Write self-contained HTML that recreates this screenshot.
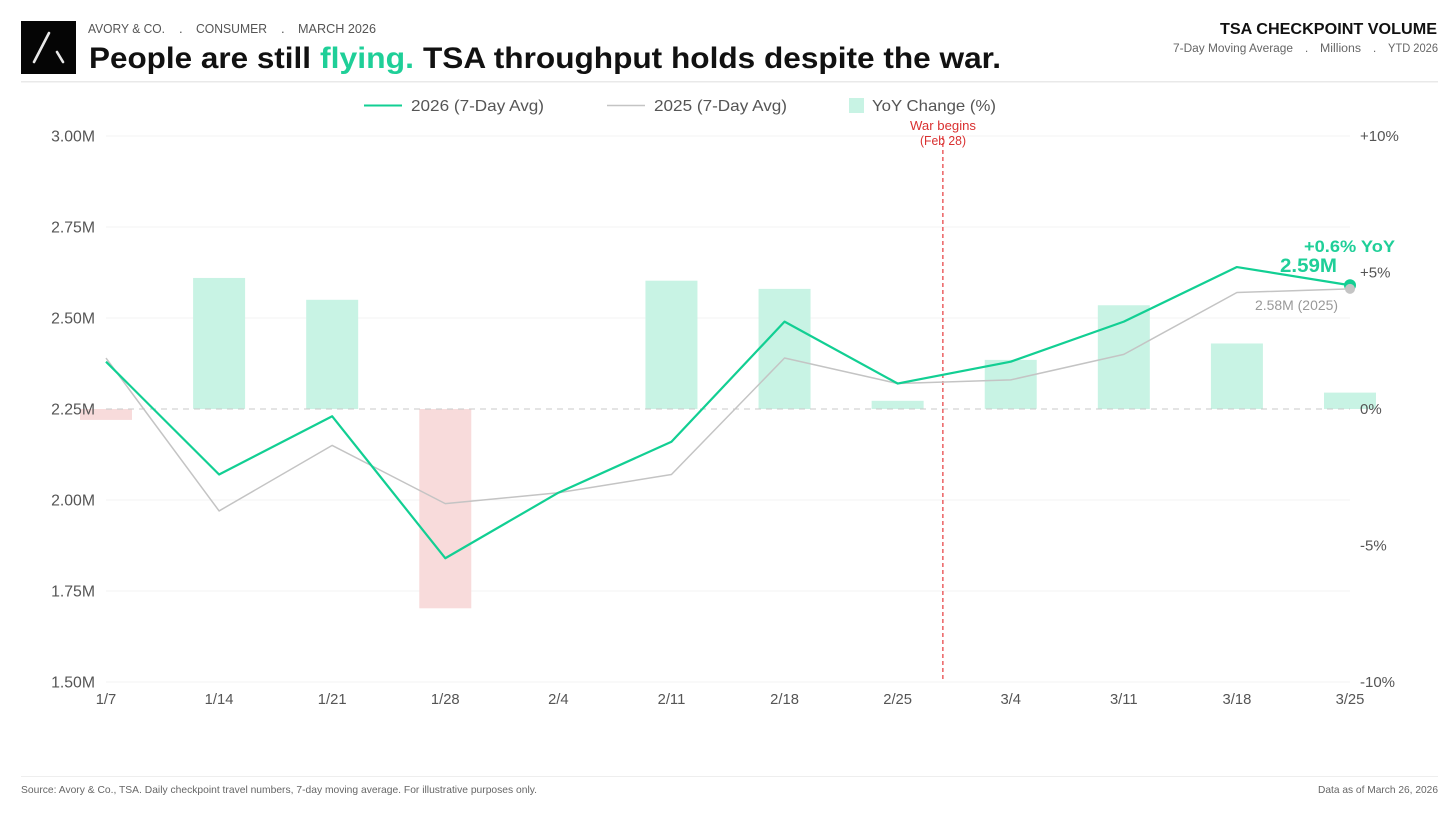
<!DOCTYPE html>
<html lang="en">
<head>
<meta charset="utf-8">
<title>TSA Checkpoint Volume</title>
<style>
  html,body{margin:0;padding:0;background:#fff;}
  body{width:1456px;height:819px;overflow:hidden;}
  svg{display:block;font-family:"Liberation Sans",Arial,sans-serif;}
</style>
</head>
<body>
<svg id="chart" width="1456" height="819" viewBox="0 0 1456 819" xmlns="http://www.w3.org/2000/svg">
  <rect x="0" y="0" width="1456" height="819" fill="#ffffff"/>

  <g>
    <g>
      <rect x="21" y="21" width="55" height="53" fill="#050505"/>
      <line x1="49" y1="33" x2="34" y2="62" stroke="#e8e8e8" stroke-width="2.6" stroke-linecap="round"/>
      <line x1="57" y1="52" x2="63" y2="62" stroke="#e8e8e8" stroke-width="2.6" stroke-linecap="round"/>
    </g>
    <g font-size="13" fill="#555555">
      <text x="88" y="33" textLength="77" lengthAdjust="spacingAndGlyphs">AVORY &amp; CO.</text>
      <text x="179" y="33">.</text>
      <text x="196" y="33" textLength="71" lengthAdjust="spacingAndGlyphs">CONSUMER</text>
      <text x="281" y="33">.</text>
      <text x="298" y="33" textLength="78" lengthAdjust="spacingAndGlyphs">MARCH 2026</text>
    </g>
    <g font-size="30" font-weight="700">
      <text x="89" y="68" fill="#111111" textLength="222" lengthAdjust="spacingAndGlyphs">People are still</text>
      <text x="320" y="68" fill="#1fcf98" textLength="94" lengthAdjust="spacingAndGlyphs">flying.</text>
      <text x="423" y="68" fill="#111111" textLength="578" lengthAdjust="spacingAndGlyphs">TSA throughput holds despite the war.</text>
    </g>
    <text x="1220" y="34" font-size="15.5" font-weight="700" fill="#111111" textLength="217" lengthAdjust="spacingAndGlyphs">TSA CHECKPOINT VOLUME</text>
    <g font-size="11.5" fill="#666666">
      <text x="1173" y="52" textLength="120" lengthAdjust="spacingAndGlyphs">7-Day Moving Average</text>
      <text x="1305" y="52">.</text>
      <text x="1320" y="52" textLength="41" lengthAdjust="spacingAndGlyphs">Millions</text>
      <text x="1373" y="52">.</text>
      <text x="1388" y="52" textLength="50" lengthAdjust="spacingAndGlyphs">YTD 2026</text>
    </g>
    <rect x="21" y="81" width="1417" height="1.5" fill="#e9e9e9"/>
  </g>

  <g font-size="16" fill="#555555">
    <g>
      <line x1="364" y1="105.5" x2="402" y2="105.5" stroke="#12cf93" stroke-width="2"/>
      <text x="411" y="111" textLength="133" lengthAdjust="spacingAndGlyphs">2026 (7-Day Avg)</text>
    </g>
    <g>
      <line x1="607" y1="105.5" x2="645" y2="105.5" stroke="#c4c4c4" stroke-width="1.5"/>
      <text x="654" y="111" textLength="133" lengthAdjust="spacingAndGlyphs">2025 (7-Day Avg)</text>
    </g>
    <g>
      <rect x="849" y="98" width="15" height="15" fill="#c8f3e4"/>
      <text x="872" y="111" textLength="124" lengthAdjust="spacingAndGlyphs">YoY Change (%)</text>
    </g>
  </g>

  <g id="plot"></g>

  <g font-size="10.5" fill="#666666">
    <rect x="21" y="776" width="1417" height="1" fill="#eeeeee"/>
    <text x="21" y="793" textLength="516" lengthAdjust="spacingAndGlyphs">Source: Avory &amp; Co., TSA. Daily checkpoint travel numbers, 7-day moving average. For illustrative purposes only.</text>
    <text x="1318" y="793" textLength="120" lengthAdjust="spacingAndGlyphs">Data as of March 26, 2026</text>
  </g>
</svg>

<script>
const dates = ['1/7','1/14','1/21','1/28','2/4','2/11','2/18','2/25','3/4','3/11','3/18','3/25'];
const values2026 = [2.38,2.07,2.23,1.84,2.02,2.16,2.49,2.32,2.38,2.49,2.64,2.59];
const values2025 = [2.39,1.97,2.15,1.99,2.02,2.07,2.39,2.32,2.33,2.40,2.57,2.58];
const yoyChange = [-0.4,4.8,4.0,-7.3,0,4.7,4.4,0.3,1.8,3.8,2.4,0.6];
const leftTickValues = [3.00,2.75,2.50,2.25,2.00,1.75,1.50];
const rightTickValues = [10,5,0,-5,-10];
const warIndex = 7.4;

const SVG_NS = 'http://www.w3.org/2000/svg';
const plot = document.getElementById('plot');
const plotLeft = 106, plotRight = 1350, plotTop = 136, plotBottom = 682;
const leftMin = 1.5, leftMax = 3.0, rightMin = -10, rightMax = 10;

function xScale(i){ return plotLeft + i * (plotRight - plotLeft) / (dates.length - 1); }
function yLeft(v){ return plotBottom - (v - leftMin) * (plotBottom - plotTop) / (leftMax - leftMin); }
function yRight(v){ return plotBottom - (v - rightMin) * (plotBottom - plotTop) / (rightMax - rightMin); }
function fmtRight(v){ return (v > 0 ? '+' : '') + v + '%'; }

function make(tag, attrs, text){
  const el = document.createElementNS(SVG_NS, tag);
  for (const k in attrs) el.setAttribute(k, attrs[k]);
  if (text !== undefined) el.textContent = text;
  return el;
}

/* grid lines */
leftTickValues.forEach(function(v){
  if (v === 2.25) return;
  const el = make('line', {x1: plotLeft, x2: plotRight, y1: yLeft(v), y2: yLeft(v), stroke: '#f3f3f3', 'stroke-width': 1});
  
  
  plot.appendChild(el);
});

/* YoY bars */
const barWidth = 52;
yoyChange.forEach(function(v, i){
  if (v === 0) return;
  const y0 = yRight(0), y1 = yRight(v);
  const el = make('rect', {x: xScale(i) - barWidth / 2, y: Math.min(y0, y1), width: barWidth, height: Math.abs(y1 - y0), fill: v >= 0 ? '#c8f3e4' : '#f8dbdb'});
  
  
  plot.appendChild(el);
});

/* zero line */
const zeroLine = make('line', {x1: plotLeft, x2: plotRight, y1: yRight(0), y2: yRight(0), stroke: '#c8c8c8', 'stroke-width': 1, 'stroke-dasharray': '6 5'});


plot.appendChild(zeroLine);

/* war marker */
const warLine = make('line', {x1: xScale(warIndex), x2: xScale(warIndex), y1: 136, y2: plotBottom, stroke: '#e8474a', 'stroke-width': 1.3, 'stroke-dasharray': '4 3'});


plot.appendChild(warLine);

const warLabelA = make('text', {x: 910, y: 130, 'font-size': 12.5, fill: '#d93030', textLength: 66, lengthAdjust: 'spacingAndGlyphs'}, 'War begins');


plot.appendChild(warLabelA);

const warLabelB = make('text', {x: 920, y: 145, 'font-size': 12.5, fill: '#d93030', textLength: 46, lengthAdjust: 'spacingAndGlyphs'}, '(Feb 28)');


plot.appendChild(warLabelB);

/* series lines */
function linePoints(arr){
  return arr.map(function(v, i){ return xScale(i) + ',' + yLeft(v); }).join(' ');
}
const line2025 = make('polyline', {points: linePoints(values2025), fill: 'none', stroke: '#c4c4c4', 'stroke-width': 1.5, 'stroke-linejoin': 'round'});


plot.appendChild(line2025);

const line2026 = make('polyline', {points: linePoints(values2026), fill: 'none', stroke: '#12cf93', 'stroke-width': 2.2, 'stroke-linejoin': 'round'});


plot.appendChild(line2026);

/* end dots */
const last = dates.length - 1;
const dot2026 = make('circle', {cx: xScale(last), cy: yLeft(values2026[last]), r: 6, fill: '#12cf93'});


plot.appendChild(dot2026);

const dot2025 = make('circle', {cx: xScale(last), cy: yLeft(values2025[last]), r: 5, fill: '#c4c4c4'});


plot.appendChild(dot2025);

/* end annotations */
const yoyNote = make('text', {x: 1395, y: 252, 'text-anchor': 'end', 'font-size': 16.5, 'font-weight': 700, fill: '#1fcf98', textLength: 91, lengthAdjust: 'spacingAndGlyphs'}, '+' + yoyChange[last].toFixed(1) + '% YoY');


plot.appendChild(yoyNote);

const val26Note = make('text', {x: 1337, y: 272, 'text-anchor': 'end', 'font-size': 19, 'font-weight': 700, fill: '#1fcf98', textLength: 57, lengthAdjust: 'spacingAndGlyphs'}, values2026[last].toFixed(2) + 'M');


plot.appendChild(val26Note);

const val25Note = make('text', {x: 1338, y: 310, 'text-anchor': 'end', 'font-size': 13.5, fill: '#999999', textLength: 83, lengthAdjust: 'spacingAndGlyphs'}, values2025[last].toFixed(2) + 'M (2025)');


plot.appendChild(val25Note);

/* axes */
leftTickValues.forEach(function(v){
  const el = make('text', {x: 95, y: yLeft(v) + 5.5, 'text-anchor': 'end', 'font-size': 15.8, fill: '#555555'}, v.toFixed(2) + 'M');
  
  
  plot.appendChild(el);
});
rightTickValues.forEach(function(v){
  const el = make('text', {x: 1360, y: yRight(v) + 5, 'font-size': 15, fill: '#555555'}, fmtRight(v));
  
  
  plot.appendChild(el);
});
dates.forEach(function(d, i){
  const el = make('text', {x: xScale(i), y: 704, 'text-anchor': 'middle', 'font-size': 14.8, fill: '#555555'}, d);
  
  
  plot.appendChild(el);
});
</script>
</body>
</html>
